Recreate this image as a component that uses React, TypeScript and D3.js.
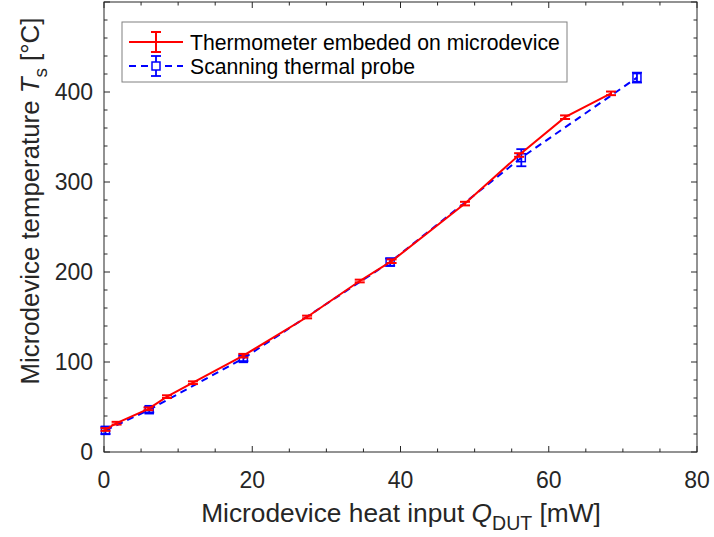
import React from "react";
import * as d3 from "d3";

const redQ = [0.2, 1.7, 6.0, 8.5, 12.0, 18.8, 27.4, 34.5, 38.8, 48.7, 56.0, 62.2, 68.4];
const redT = [25, 32, 48, 61.5, 77, 107, 150, 190, 212, 276, 330, 372, 398.5];
const redErr = [1.5, 1.5, 1.5, 1.5, 1.5, 2, 1.5, 1.5, 2, 2, 2, 2, 2];

const blueQ = [0.2, 6.1, 18.8, 38.6, 56.3, 71.9];
const blueT = [24, 47, 104, 211, 327, 416];
const blueErr = [4, 3, 3, 4, 9.5, 5.5];

const xTicks = [0, 20, 40, 60, 80];
const yTicks = [0, 100, 200, 300, 400];
const xMinor = d3.range(0, 81, 5);
const yMinor = d3.range(0, 501, 20);

const W = 714, H = 537;
const L = 104, R = 697, T = 2, B = 452;
const AX = "#262626";
const FONT = "'Liberation Sans', Arial, Helvetica, sans-serif";

export default function App() {
  const x = d3.scaleLinear().domain([0, 80]).range([L, R]);
  const y = d3.scaleLinear().domain([0, 500]).range([B, T]);
  const redData = redQ.map((q, i) => ({ q, t: redT[i], e: redErr[i] }));
  const blueData = blueQ.map((q, i) => ({ q, t: blueT[i], e: blueErr[i] }));
  const line = d3.line<{ q: number; t: number }>().x(d => x(d.q)).y(d => y(d.t));

  const errBar = (cx: number, y1: number, y2: number, color: string, cap: number, key: string, sw = 1.5) => (
    <g key={key} stroke={color} strokeWidth={sw} fill="none">
      <line x1={cx} x2={cx} y1={y1} y2={y2} />
      <line x1={cx - cap} x2={cx + cap} y1={y1} y2={y1} />
      <line x1={cx - cap} x2={cx + cap} y1={y2} y2={y2} />
    </g>
  );

  return (
    <svg width={W} height={H} style={{ position: "absolute", left: 0, top: 0, background: "#fff" }} fontFamily={FONT}>
      <rect x={0} y={0} width={W} height={H} fill="#fff" />
      {/* frame */}
      <rect x={L} y={T} width={R - L} height={B - T} fill="none" stroke={AX} strokeWidth={1} />
      {/* minor ticks */}
      {xMinor.map(v => (
        <g key={"xm" + v} stroke={AX} strokeWidth={1}>
          <line x1={x(v)} x2={x(v)} y1={B} y2={B - (v % 20 === 0 ? 6 : 3.5)} />
          <line x1={x(v)} x2={x(v)} y1={T} y2={T + (v % 20 === 0 ? 6 : 3.5)} />
        </g>
      ))}
      {yMinor.map(v => (
        <g key={"ym" + v} stroke={AX} strokeWidth={1}>
          <line x1={L} x2={L + (v % 100 === 0 ? 6 : 3.5)} y1={y(v)} y2={y(v)} />
          <line x1={R} x2={R - (v % 100 === 0 ? 6 : 3.5)} y1={y(v)} y2={y(v)} />
        </g>
      ))}
      {/* tick labels */}
      {xTicks.map(v => (
        <text key={"xt" + v} x={x(v)} y={B + 36} fontSize={23} fill={AX} textAnchor="middle">{v}</text>
      ))}
      {yTicks.map(v => (
        <text key={"yt" + v} x={L - 11} y={y(v) + 8.3} fontSize={23} fill={AX} textAnchor="end">{v}</text>
      ))}
      {/* axis labels */}
      <text x={401} y={522} fontSize={26.3} fill={AX} textAnchor="middle">
        Microdevice heat input <tspan fontStyle="italic">Q</tspan>
        <tspan fontSize={19.5} dy={8}>DUT</tspan>
        <tspan dy={-8}> [mW]</tspan>
      </text>
      <text transform={`translate(39,201) rotate(-90)`} fontSize={25.8} fill={AX} textAnchor="middle">
        Microdevice temperature <tspan fontStyle="italic">T</tspan>
        <tspan fontSize={19} dy={8}>s</tspan>
        <tspan dy={-8}> [°C]</tspan>
      </text>
      {/* blue series */}
      <path d={line(blueData) || ""} fill="none" stroke="#0000ff" strokeWidth={2} strokeDasharray="7,5" />
      {blueData.map((d, i) => errBar(x(d.q), y(d.t + d.e), y(d.t - d.e), "#0000ff", 5, "be" + i, 1.8))}
      {blueData.map((d, i) => (
        <rect key={"bm" + i} x={x(d.q) - 4} y={y(d.t) - 4} width={8} height={8} fill="none" stroke="#0000ff" strokeWidth={1.5} />
      ))}
      {/* red series */}
      <path d={line(redData) || ""} fill="none" stroke="#ff0000" strokeWidth={2} />
      {redData.map((d, i) => errBar(x(d.q), y(d.t + d.e), y(d.t - d.e), "#ff0000", 5, "re" + i, 2))}
      {/* legend */}
      <rect x={122} y={22} width={445} height={60} fill="#fff" stroke="#808080" strokeWidth={1} />
      <line x1={129} x2={183} y1={42} y2={42} stroke="#ff0000" strokeWidth={2} />
      {errBar(156, 32, 52, "#ff0000", 5, "lre", 2)}
      <text x={190} y={49.5} fontSize={21.2} fill="#000">Thermometer embeded on microdevice</text>
      <line x1={129} x2={183} y1={66} y2={66} stroke="#0000ff" strokeWidth={2} strokeDasharray="7,5" />
      {errBar(156, 56, 76, "#0000ff", 5, "lbe", 1.8)}
      <rect x={152} y={62} width={8} height={8} fill="#fff" stroke="#0000ff" strokeWidth={1.5} />
      <text x={190} y={73.5} fontSize={21.2} fill="#000">Scanning thermal probe</text>
    </svg>
  );
}
